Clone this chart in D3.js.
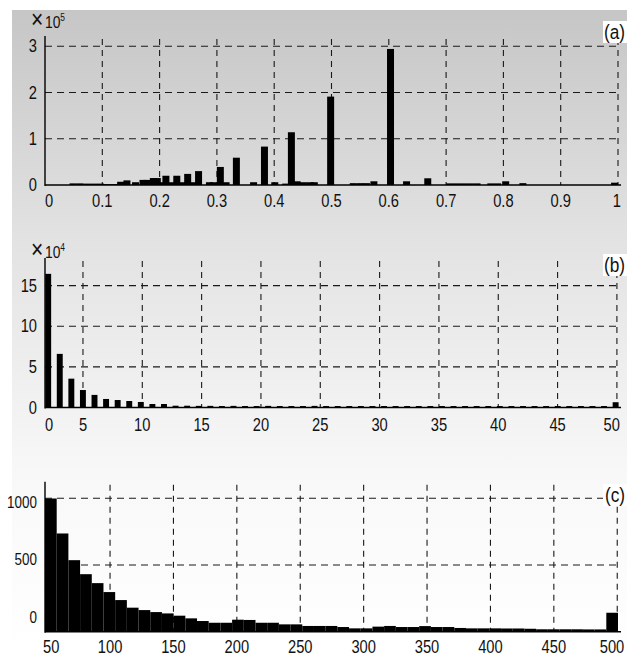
<!DOCTYPE html>
<html lang="en">
<head>
<meta charset="UTF-8">
<title>Histograms (a) (b) (c)</title>
<script src="https://d3js.org/d3.v7.min.js"></script>
<style>
  body { margin: 0; background: #fff; }
  svg text { font-family: "Liberation Sans", Arial, sans-serif; fill: #111; }
</style>
</head>
<body>
<svg id="chart" width="627" height="655"></svg>
<script>
// ---- panel (a): bar centres and counts (x 10^5)
const aCenters = [0.049, 0.061, 0.073, 0.085, 0.097, 0.108, 0.120, 0.132, 0.143, 0.158,
                  0.171, 0.178, 0.189, 0.196, 0.204, 0.211, 0.221, 0.230, 0.239, 0.249,
                  0.259, 0.268, 0.287, 0.294, 0.306, 0.316, 0.334, 0.364, 0.383, 0.401,
                  0.420, 0.430, 0.440, 0.451, 0.463, 0.470, 0.4985, 0.538, 0.550, 0.561,
                  0.574, 0.603, 0.631, 0.668, 0.706, 0.718, 0.730, 0.742, 0.754, 0.778,
                  0.790, 0.804, 0.834, 0.994];
const aCounts = [0.035, 0.035, 0.03, 0.03, 0.03, 0.02, 0.02, 0.07, 0.10, 0.06,
                 0.11, 0.11, 0.15, 0.15, 0.06, 0.20, 0.06, 0.20, 0.06, 0.24,
                 0.06, 0.30, 0.06, 0.06, 0.39, 0.06, 0.59, 0.06, 0.83, 0.06,
                 0.03, 1.14, 0.08, 0.06, 0.06, 0.06, 1.91, 0.04, 0.04, 0.04,
                 0.08, 2.94, 0.08, 0.145, 0.035, 0.035, 0.035, 0.035, 0.035, 0.035,
                 0.035, 0.08, 0.04, 0.05];
const aXTicks = [0, 0.1, 0.2, 0.3, 0.4, 0.5, 0.6, 0.7, 0.8, 0.9, 1];
const aXLabels = ["0", "0.1", "0.2", "0.3", "0.4", "0.5", "0.6", "0.7", "0.8", "0.9", "1"];
const aYTicks = [0, 1, 2, 3];

// ---- panel (b): 50 histogram bins (x 10^4)
const bCounts = [16.45, 6.6, 3.55, 2.15, 1.55, 1.05, 0.92, 0.8, 0.68, 0.43,
                 0.43, 0.22, 0.22, 0.2, 0.2, 0.18, 0.2, 0.18, 0.18, 0.2,
                 0.18, 0.18, 0.18, 0.2, 0.18, 0.18, 0.18, 0.18, 0.18, 0.18,
                 0.18, 0.18, 0.18, 0.18, 0.18, 0.18, 0.18, 0.18, 0.18, 0.18,
                 0.18, 0.18, 0.18, 0.18, 0.18, 0.18, 0.18, 0.18, 0.18, 0.65];
const bLimits = [1.8, 50.05];       // axis limits
const bBinRange = [1.58, 50.38];    // histogram range
const bXTicks = [5, 10, 15, 20, 25, 30, 35, 40, 45, 50];
const bXLabels = ["0", "5", "10", "15", "20", "25", "30", "35", "40", "45", "50"];
const bYTicks = [0, 5, 10, 15];

// ---- panel (c): 49 histogram bins
const cCounts = [998, 736, 536, 431, 364, 297, 237, 180, 162, 147,
                 137, 120, 100, 80, 67, 67, 90, 88, 67, 67,
                 55, 55, 43, 43, 43, 35, 25, 25, 38, 43,
                 35, 35, 42, 35, 35, 28, 25, 25, 25, 24,
                 24, 22, 18, 18, 18, 18, 17, 17, 142];
const cLimits = [48.7, 500.6];
const cXTicks = [50, 100, 150, 200, 250, 300, 350, 400, 450, 500];
const cYTicks = [0, 500, 1000];

const svg = d3.select("#chart");
const SX = 0.84;   // narrow the glyphs like the source font

// grey figure background
const grad = svg.append("defs").append("linearGradient")
    .attr("id", "bg").attr("x1", 0).attr("y1", 0).attr("x2", 0).attr("y2", 1);
grad.append("stop").attr("offset", "0").attr("stop-color", "#c6c6c6");
grad.append("stop").attr("offset", "0.35").attr("stop-color", "#e2e2e2");
grad.append("stop").attr("offset", "0.72").attr("stop-color", "#f8f8f8");
grad.append("stop").attr("offset", "1").attr("stop-color", "#ffffff");
svg.append("rect").attr("x", 12).attr("y", 10).attr("width", 615).attr("height", 645)
    .attr("fill", "url(#bg)");

const left = 45, right = 618;

function label(g, x, y, str, size, anchor) {
    return g.append("text")
        .attr("transform", `translate(${x},${y}) scale(${SX},1)`)
        .attr("text-anchor", anchor)
        .attr("font-size", size)
        .text(str);
}

function drawPanel(p) {
    const g = svg.append("g");
    const x = p.x, y = p.y;
    const y0 = y(0), yTop = y.range()[1];

    // dashed grid
    g.selectAll(".hg").data(p.yGrid).join("line")
        .attr("x1", left).attr("x2", x(p.xGridEnd))
        .attr("y1", d => y(d)).attr("y2", d => y(d))
        .attr("stroke", "#1a1a1a").attr("stroke-width", 1.1).attr("stroke-dasharray", "7,5");
    g.selectAll(".vg").data(p.xGrid).join("line")
        .attr("x1", d => x(d)).attr("x2", d => x(d))
        .attr("y1", yTop + 3).attr("y2", y0)
        .attr("stroke", "#1a1a1a").attr("stroke-width", 1.1).attr("stroke-dasharray", "6,5");

    // bars
    g.selectAll(".bar").data(p.bars).join("rect")
        .attr("x", d => x(d.x0)).attr("width", d => x(d.x1) - x(d.x0))
        .attr("y", d => y(d.v)).attr("height", d => y0 - y(d.v))
        .attr("fill", "#000");

    // axes lines
    g.append("line").attr("x1", left).attr("x2", left).attr("y1", yTop).attr("y2", y0 + 1)
        .attr("stroke", "#000").attr("stroke-width", 1.4);
    g.append("line").attr("x1", left).attr("x2", 621).attr("y1", y0).attr("y2", y0)
        .attr("stroke", "#000").attr("stroke-width", 1.4);

    // tick labels
    p.xLabels.forEach(d => label(g, d.px, p.xLabelY, d.t, 17.5, d.anchor));
    p.yLabels.forEach(d => label(g, 37, d.py + 6.2, d.t, p.yFont, "end"));

    // exponent
    if (p.exp) {
        const t = g.append("text")
            .attr("transform", `translate(31,${p.expY}) scale(${SX},1)`);
        t.append("tspan").attr("font-size", 25).text("\u00d7");
        t.append("tspan").attr("font-size", 16.5).attr("dx", 2).text("10");
        t.append("tspan").attr("font-size", 10).attr("dy", -7).text(p.exp);
    }

    // panel letter
    g.append("rect").attr("x", 603).attr("y", p.tagY).attr("width", 24).attr("height", 22)
        .attr("fill", "#fff");
    label(g, 625, p.tagY + 17.5, p.tag, 20.5, "end");
}

function anchorFor(i, n) { return i === 0 ? "start" : (i === n - 1 ? "end" : "middle"); }

// ---------- (a)
{
    const x = d3.scaleLinear().domain([0, 1]).range([left, right]);
    const y = d3.scaleLinear().domain([0, 3.22]).range([185, 36]);
    const w = 0.0122;
    drawPanel({
        x, y,
        yGrid: aYTicks.slice(1), xGrid: aXTicks.slice(1), xGridEnd: 1,
        bars: aCenters.map((c, i) => ({ x0: c - w / 2, x1: c + w / 2, v: aCounts[i] })),
        xLabels: aXTicks.map((v, i) => ({
            px: i === 0 ? left : (i === aXTicks.length - 1 ? x(v) + 3 : x(v)),
            anchor: anchorFor(i, aXTicks.length), t: aXLabels[i] })),
        xLabelY: 207,
        yLabels: aYTicks.map(v => ({ py: y(v), t: String(v) })),
        yFont: 17.5,
        exp: "5", expY: 28,
        tag: "(a)", tagY: 21
    });
}

// ---------- (b)
{
    const x = d3.scaleLinear().domain(bLimits).range([left, 617.5]);
    const y = d3.scaleLinear().domain([0, 18.4]).range([407.5, 258]);
    const bw = (bBinRange[1] - bBinRange[0]) / bCounts.length;
    const w = 0.5;
    const ticks = [bLimits[0]].concat(bXTicks);
    drawPanel({
        x, y,
        yGrid: bYTicks.slice(1), xGrid: bXTicks, xGridEnd: 50,
        bars: bCounts.map((v, i) => {
            const c = bBinRange[0] + (i + 0.5) * bw;
            return { x0: c - w / 2, x1: c + w / 2, v };
        }),
        xLabels: ticks.map((v, i) => ({
            px: i === 0 ? left : (i === ticks.length - 1 ? x(v) + 3 : x(v)),
            anchor: anchorFor(i, ticks.length), t: bXLabels[i] })),
        xLabelY: 431,
        yLabels: bYTicks.map(v => ({ py: y(v), t: String(v) })),
        yFont: 17.5,
        exp: "4", expY: 258,
        tag: "(b)", tagY: 254
    });
}

// ---------- (c)
{
    const x = d3.scaleLinear().domain(cLimits).range([left, right]);
    const y = d3.scaleLinear().domain([0, 1124]).range([631.7, 481.7]);
    const bw = (cLimits[1] - cLimits[0]) / cCounts.length;
    // the y labels in the source sit slightly compressed toward the top
    const yLab = v => y(1000) + 3.4 + (y(v) - y(1000)) * 0.86;
    drawPanel({
        x, y,
        yGrid: cYTicks.slice(1), xGrid: cXTicks.slice(1), xGridEnd: 500,
        bars: cCounts.map((v, i) => ({ x0: cLimits[0] + i * bw, x1: cLimits[0] + (i + 1) * bw, v })),
        xLabels: cXTicks.map((v, i) => ({
            px: i === 0 ? 43 : (i === cXTicks.length - 1 ? x(v) + 7 : x(v)),
            anchor: anchorFor(i, cXTicks.length), t: String(v) })),
        xLabelY: 653,
        yLabels: cYTicks.map(v => ({ py: yLab(v), t: String(v) })),
        yFont: 16,
        exp: null,
        tag: "(c)", tagY: 484
    });
}
</script>
</body>
</html>
